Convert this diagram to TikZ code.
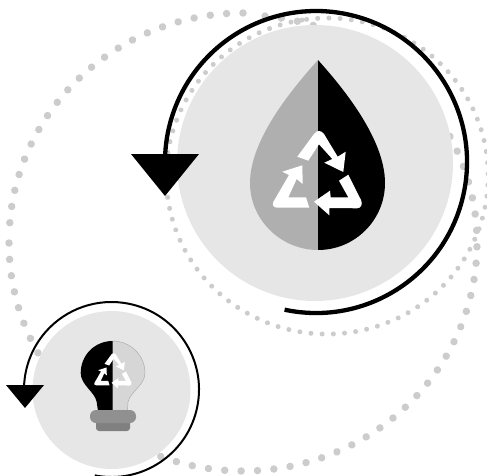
\documentclass[tikz,border=0pt]{standalone}
\usepackage{xcolor}
\definecolor{discgray}{HTML}{E6E6E6}
\definecolor{dotgray}{HTML}{CCCCCC}
\definecolor{dropgray}{HTML}{AFAFAF}
\definecolor{bulbgray}{HTML}{D6D6D6}
\definecolor{basegray}{HTML}{909090}
\definecolor{capgray}{HTML}{808080}

\begin{document}
\begin{tikzpicture}[
  x=1pt, y=-1pt,
  disc/.style={circle, fill=discgray, inner sep=0pt},
  outerdots/.style={draw=dotgray, line width=7.5pt, line cap=round, dash pattern=on 0.01pt off 16.4pt},
  innerdots/.style={draw=dotgray, line width=5pt, line cap=round, dash pattern=on 0.01pt off 11.2pt},
  looparc/.style={draw=black, line width=4.3pt},
  recycle/.pic={
    \fill[white] (-20.2,-16.3) -- (-3.5,-39) .. controls (-1,-43) and (4,-43) .. (6.5,-39) -- (20.2,-16.3)
      -- (28.2,-21.3) -- (25.8,-1) -- (6.8,-10.3) -- (14.8,-14) -- (1.5,-28.7) -- (-9.2,-12.3) -- cycle;
    \fill[white] (-35.2,-1.3) -- (-15.2,-7.7) -- (-14.8,11) -- (-20.8,6) -- (-29.2,24.3) -- (-11.5,24.3)
      -- (-8.2,34.7) -- (-40.2,34.7) .. controls (-44,34.7) and (-45.5,32) .. (-44.2,29) -- (-28.5,2) -- cycle;
    \fill[white] (21.5,7.7) -- (30.8,1.7) -- (43.5,27) .. controls (45.5,31) and (43.5,35.3) .. (39.8,35.3)
      -- (11.8,35) -- (11.8,42.3) -- (-3.5,28.7) -- (12.5,17.7) -- (13.2,24.3) -- (30.8,24.3) -- cycle;
  }
]
\useasboundingbox (0,0) rectangle (487,476);

\draw[outerdots] (243,13) arc[start angle=-90, end angle=-178.8, x radius=234, y radius=228];
\draw[outerdots] (9,243) arc[start angle=180, end angle=-87.5, x radius=234, y radius=228];
\draw[innerdots] (302,20) arc[start angle=-99, end angle=-458, x radius=161, y radius=158];

\node[disc, minimum size=276pt] (bigdisc) at (315,163) {};
\node[disc, minimum size=158pt] (smalldisc) at (111.5,390) {};

\draw[looparc] (316,162) ++(102:151) arc[start angle=102, end angle=-177, radius=151];
\fill[black] (131,154) -- (199,154) -- (165,196) -- cycle;

\fill[dropgray] (318,60) .. controls (291,90) and (250,140) .. (250,183)
  .. controls (250,220) and (281,250) .. (318,250) -- cycle;
\fill[black] (318,60) .. controls (345,90) and (385,140) .. (385,183)
  .. controls (385,220) and (355,250) .. (318,250) -- cycle;
\pic at (317.5,173) {recycle};

\draw[looparc, line width=2pt] (111.5,389.5) ++(101:87.5) arc[start angle=101, end angle=-178, radius=87.5];
\fill[black] (6,385) -- (44,385) -- (25,408) -- cycle;

\draw[fill=bulbgray, draw=gray!70, line width=0.4pt] (112.5,341) .. controls (130,341) and (145,355) .. (145,373)
  .. controls (145,385) and (130,392) .. (128,402) -- (127.5,411) -- (112.5,411) -- cycle;
\fill[black] (112.5,341) .. controls (95,341) and (80.7,355) .. (80.7,373)
  .. controls (80.7,385) and (95,392) .. (96.7,402) -- (98,411) -- (112.5,411) -- cycle;
\fill[capgray, rounded corners=3pt] (96,418) rectangle (130,431);
\fill[basegray, rounded corners=6pt] (90,410) rectangle (136,423);
\pic[scale=0.42] at (113,370.7) {recycle};

\end{tikzpicture}
\end{document}
